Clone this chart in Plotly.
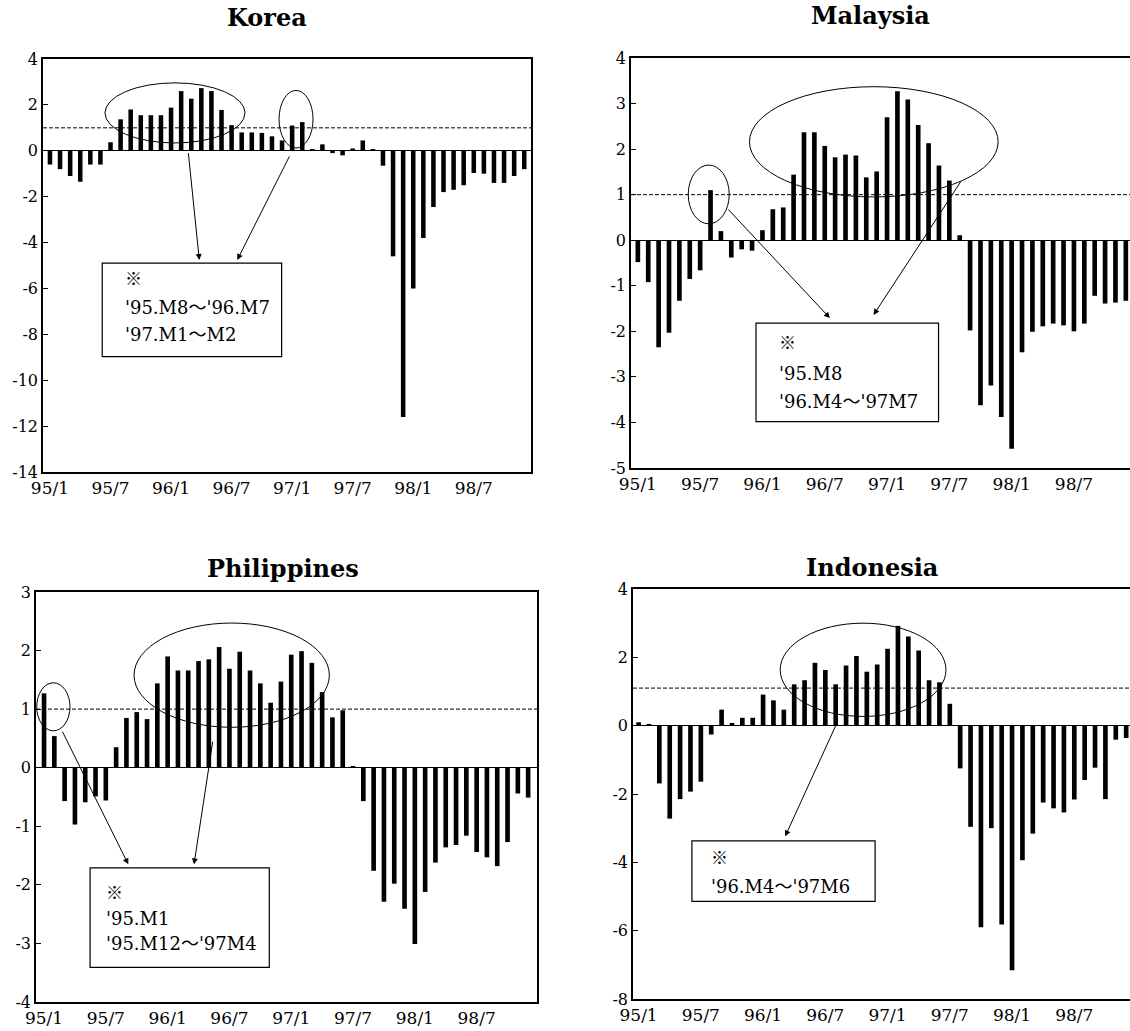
import plotly.graph_objects as go

# ---------------- data ----------------
months = ["95/1", "95/2", "95/3", "95/4", "95/5", "95/6", "95/7", "95/8", "95/9", "95/10", "95/11", "95/12",
          "96/1", "96/2", "96/3", "96/4", "96/5", "96/6", "96/7", "96/8", "96/9", "96/10", "96/11", "96/12",
          "97/1", "97/2", "97/3", "97/4", "97/5", "97/6", "97/7", "97/8", "97/9", "97/10", "97/11", "97/12",
          "98/1", "98/2", "98/3", "98/4", "98/5", "98/6", "98/7", "98/8", "98/9", "98/10", "98/11", "98/12"]
tick_labels = ["95/1", "95/7", "96/1", "96/7", "97/1", "97/7", "98/1", "98/7"]

korea = [-0.6, -0.8, -1.1, -1.35, -0.6, -0.6, 0.37, 1.37, 1.8, 1.55, 1.55, 1.55,
         1.88, 2.6, 2.27, 2.73, 2.6, 1.78, 1.12, 0.8, 0.8, 0.78, 0.63, 0.45,
         1.1, 1.25, 0.05, 0.28, -0.1, -0.2, 0.1, 0.45, 0.05, -0.65, -4.6, -11.6,
         -6.0, -3.8, -2.45, -1.8, -1.7, -1.5, -0.97, -1.0, -1.4, -1.4, -1.1, -0.8]
malaysia = [-0.48, -0.92, -2.35, -2.03, -1.33, -0.85, -0.66, 1.1, 0.2, -0.38, -0.2, -0.23,
            0.22, 0.68, 0.72, 1.44, 2.37, 2.37, 2.07, 1.82, 1.88, 1.86, 1.38, 1.51,
            2.7, 3.27, 3.09, 2.53, 2.13, 1.64, 1.31, 0.11, -1.98, -3.62, -3.19, -3.88,
            -4.58, -2.46, -2.01, -1.89, -1.83, -1.87, -2.0, -1.83, -1.22, -1.39, -1.37, -1.33]
philippines = [1.27, 0.54, -0.57, -0.97, -0.59, -0.49, -0.56, 0.35, 0.85, 0.95, 0.83, 1.44,
               1.9, 1.66, 1.66, 1.82, 1.85, 2.06, 1.69, 1.98, 1.66, 1.44, 1.11, 1.47,
               1.93, 1.99, 1.79, 1.29, 0.86, 0.98, 0.03, -0.57, -1.76, -2.29, -1.98, -2.41,
               -3.01, -2.12, -1.62, -1.36, -1.32, -1.16, -1.44, -1.53, -1.68, -1.27, -0.44, -0.51]
indonesia = [0.1, 0.05, -1.69, -2.72, -2.15, -1.93, -1.64, -0.26, 0.47, 0.08, 0.23, 0.23,
             0.91, 0.74, 0.47, 1.21, 1.33, 1.84, 1.63, 1.21, 1.76, 2.04, 1.58, 1.79,
             2.25, 2.92, 2.61, 2.2, 1.33, 1.27, 0.64, -1.25, -2.96, -5.9, -3.0, -5.82,
             -7.16, -3.94, -3.16, -2.25, -2.42, -2.54, -2.16, -1.59, -1.23, -2.15, -0.41, -0.36]

titles = ["Korea", "Malaysia", "Philippines", "Indonesia"]
thresholds = [1.0, 1.0, 1.0, 1.1]

korea_yticks = [-14, -12, -10, -8, -6, -4, -2, 0, 2, 4]
malaysia_yticks = [-5, -4, -3, -2, -1, 0, 1, 2, 3, 4]
philippines_yticks = [-4, -3, -2, -1, 0, 1, 2, 3]
indonesia_yticks = [-8, -6, -4, -2, 0, 2, 4]

korea_notes = ["'95.M8〜'96.M7", "'97.M1〜M2"]
malaysia_notes = ["'95.M8", "'96.M4〜'97M7"]
philippines_notes = ["'95.M1", "'95.M12〜'97M4"]
indonesia_notes = ["'96.M4〜'97M6"]
note_mark = "※"

# ---------------- layout helpers ----------------
W, H = 1130, 1031
SERIF = "DejaVu Serif, Liberation Serif, Noto Sans CJK JP, serif"
CJK = "Noto Sans CJK JP, Noto Sans CJK SC, sans-serif"


def px(x):
    return x / W


def py(y):
    return 1 - y / H


panels = [
    dict(vals=korea, notes=korea_notes, title=titles[0], thr=thresholds[0], yt=korea_yticks,
         dom=(43, 531, 59, 472), yr=(-14, 4), xr=(-0.69, 47.67), right=False,
         title_pos=(267, 17),
         ellipses=[(5.45, 0.34, 19.33, 2.96), (22.7, 0.12, 26.07, 2.63)],
         arrows=[((13.7, -0.04), (14.8, -4.76)), ((23.8, -0.18), (18.56, -4.76))],
         box=(5.18, -8.97, 22.96, -4.9), text_x=7.23, mark_y=-5.54, text_y=[-6.84, -8.02]),
    dict(vals=malaysia, notes=malaysia_notes, title=titles[1], thr=thresholds[1], yt=malaysia_yticks,
         dom=(631, 1130, 58, 468), yr=(-5, 4), xr=(-0.66, 47.4), right=True,
         title_pos=(870, 15),
         ellipses=[(4.85, 0.36, 8.8, 1.65), (10.75, 0.95, 34.7, 3.37)],
         arrows=[((8.57, 0.71), (18.5, -1.71)), ((31.2, 1.32), (22.7, -1.64))],
         box=(11.38, -3.98, 28.96, -1.82), text_x=13.37, mark_y=-2.23, text_y=[-2.92, -3.53]),
    dict(vals=philippines, notes=philippines_notes, title=titles[2], thr=thresholds[2], yt=philippines_yticks,
         dom=(36, 537, 592, 1002), yr=(-4, 3), xr=(-0.78, 47.86), right=False,
         title_pos=(283, 568),
         ellipses=[(-0.71, 0.63, 2.52, 1.45), (8.74, 0.69, 27.7, 2.47)],
         arrows=[((1.72, 0.64), (8.18, -1.65)), ((16.4, 0.47), (14.56, -1.65))],
         box=(4.47, -3.41, 21.87, -1.71), text_x=5.83, mark_y=-2.11, text_y=[-2.58, -3.0]),
    dict(vals=indonesia, notes=indonesia_notes, title=titles[3], thr=thresholds[3], yt=indonesia_yticks,
         dom=(633, 1130, 589, 999), yr=(-8, 4), xr=(-0.54, 47.37), right=True,
         title_pos=(872, 567),
         ellipses=[(13.65, 0.27, 29.63, 3.0)],
         arrows=[((19.27, 0.18), (14.13, -3.24))],
         box=(5.14, -5.14, 22.8, -3.37), text_x=6.74, mark_y=-3.84, text_y=[-4.7]),
]

fig = go.Figure()
shapes = []
annotations = []
layout = {}

for k, p in enumerate(panels, start=1):
    sfx = "" if k == 1 else str(k)
    xref, yref = "x" + sfx, "y" + sfx
    fig.add_trace(go.Bar(x=months, y=p["vals"], xaxis=xref, yaxis=yref,
                         marker=dict(color="black", line=dict(width=0)),
                         width=0.45, showlegend=False, hoverinfo="x+y"))
    x0, x1, y0, y1 = p["dom"]
    ylo, yhi = p["yr"]
    layout["xaxis" + sfx] = dict(
        domain=[px(x0), min(1.0, px(x1))], anchor=yref, type="category",
        categoryorder="array", categoryarray=months, range=list(p["xr"]),
        tickmode="array", tickvals=tick_labels, ticktext=tick_labels,
        ticks="", showgrid=False, zeroline=False, automargin=False,
        showline=True, linecolor="black", linewidth=1.5, mirror=True,
        tickfont=dict(family=SERIF, size=17, color="black"))
    layout["yaxis" + sfx] = dict(
        domain=[py(y1), py(y0)], anchor=xref, range=[ylo, yhi],
        tickmode="array", tickvals=p["yt"], ticktext=[str(v) for v in p["yt"]],
        ticks="inside", ticklen=5, tickcolor="black", tickwidth=1,
        showgrid=False, zeroline=True, zerolinecolor="black", zerolinewidth=1,
        automargin=False,
        showline=True, linecolor="black", linewidth=1.5, mirror=not p["right"],
        tickfont=dict(family=SERIF, size=16, color="black"))

    # threshold dashed line
    shapes.append(dict(type="line", xref=xref + " domain", yref=yref, x0=0, x1=1,
                       y0=p["thr"], y1=p["thr"],
                       line=dict(color="black", width=1, dash="4px,2px"), layer="above"))
    # ellipses
    for (ex0, ey0, ex1, ey1) in p["ellipses"]:
        shapes.append(dict(type="circle", xref=xref, yref=yref, x0=ex0, y0=ey0, x1=ex1, y1=ey1,
                           line=dict(color="black", width=1), layer="above"))
    # note box
    bx0, by0, bx1, by1 = p["box"]
    shapes.append(dict(type="rect", xref=xref, yref=yref, x0=bx0, y0=by0, x1=bx1, y1=by1,
                       line=dict(color="black", width=1.2), fillcolor="white", layer="above"))
    annotations.append(dict(xref=xref, yref=yref, x=p["text_x"], y=p["mark_y"], text=note_mark,
                            showarrow=False, xanchor="left", yanchor="middle",
                            font=dict(family=CJK, size=17, color="black")))
    for txt, ty in zip(p["notes"], p["text_y"]):
        annotations.append(dict(xref=xref, yref=yref, x=p["text_x"], y=ty, text=txt,
                                showarrow=False, xanchor="left", yanchor="middle",
                                font=dict(family=SERIF, size=18, color="black")))
    # arrows
    for (tail, head) in p["arrows"]:
        annotations.append(dict(xref=xref, yref=yref, x=head[0], y=head[1],
                                axref=xref, ayref=yref, ax=tail[0], ay=tail[1],
                                text="", showarrow=True, arrowhead=2, arrowsize=1.2,
                                arrowwidth=1, arrowcolor="black", standoff=0))
    # title
    tx, ty_ = p["title_pos"]
    annotations.append(dict(xref="paper", yref="paper", x=px(tx), y=py(ty_),
                            text="<b>" + p["title"] + "</b>", showarrow=False,
                            xanchor="center", yanchor="middle",
                            font=dict(family=SERIF, size=24, color="black")))

fig.update_layout(
    width=W, height=H, margin=dict(l=0, r=0, t=0, b=0, autoexpand=False),
    paper_bgcolor="white", plot_bgcolor="white",
    showlegend=False, bargap=0.5,
    shapes=shapes, annotations=annotations, **layout)

fig.write_html("out.html", config={"displayModeBar": False},
               post_script="document.body.style.margin='0';document.body.style.padding='0';")
